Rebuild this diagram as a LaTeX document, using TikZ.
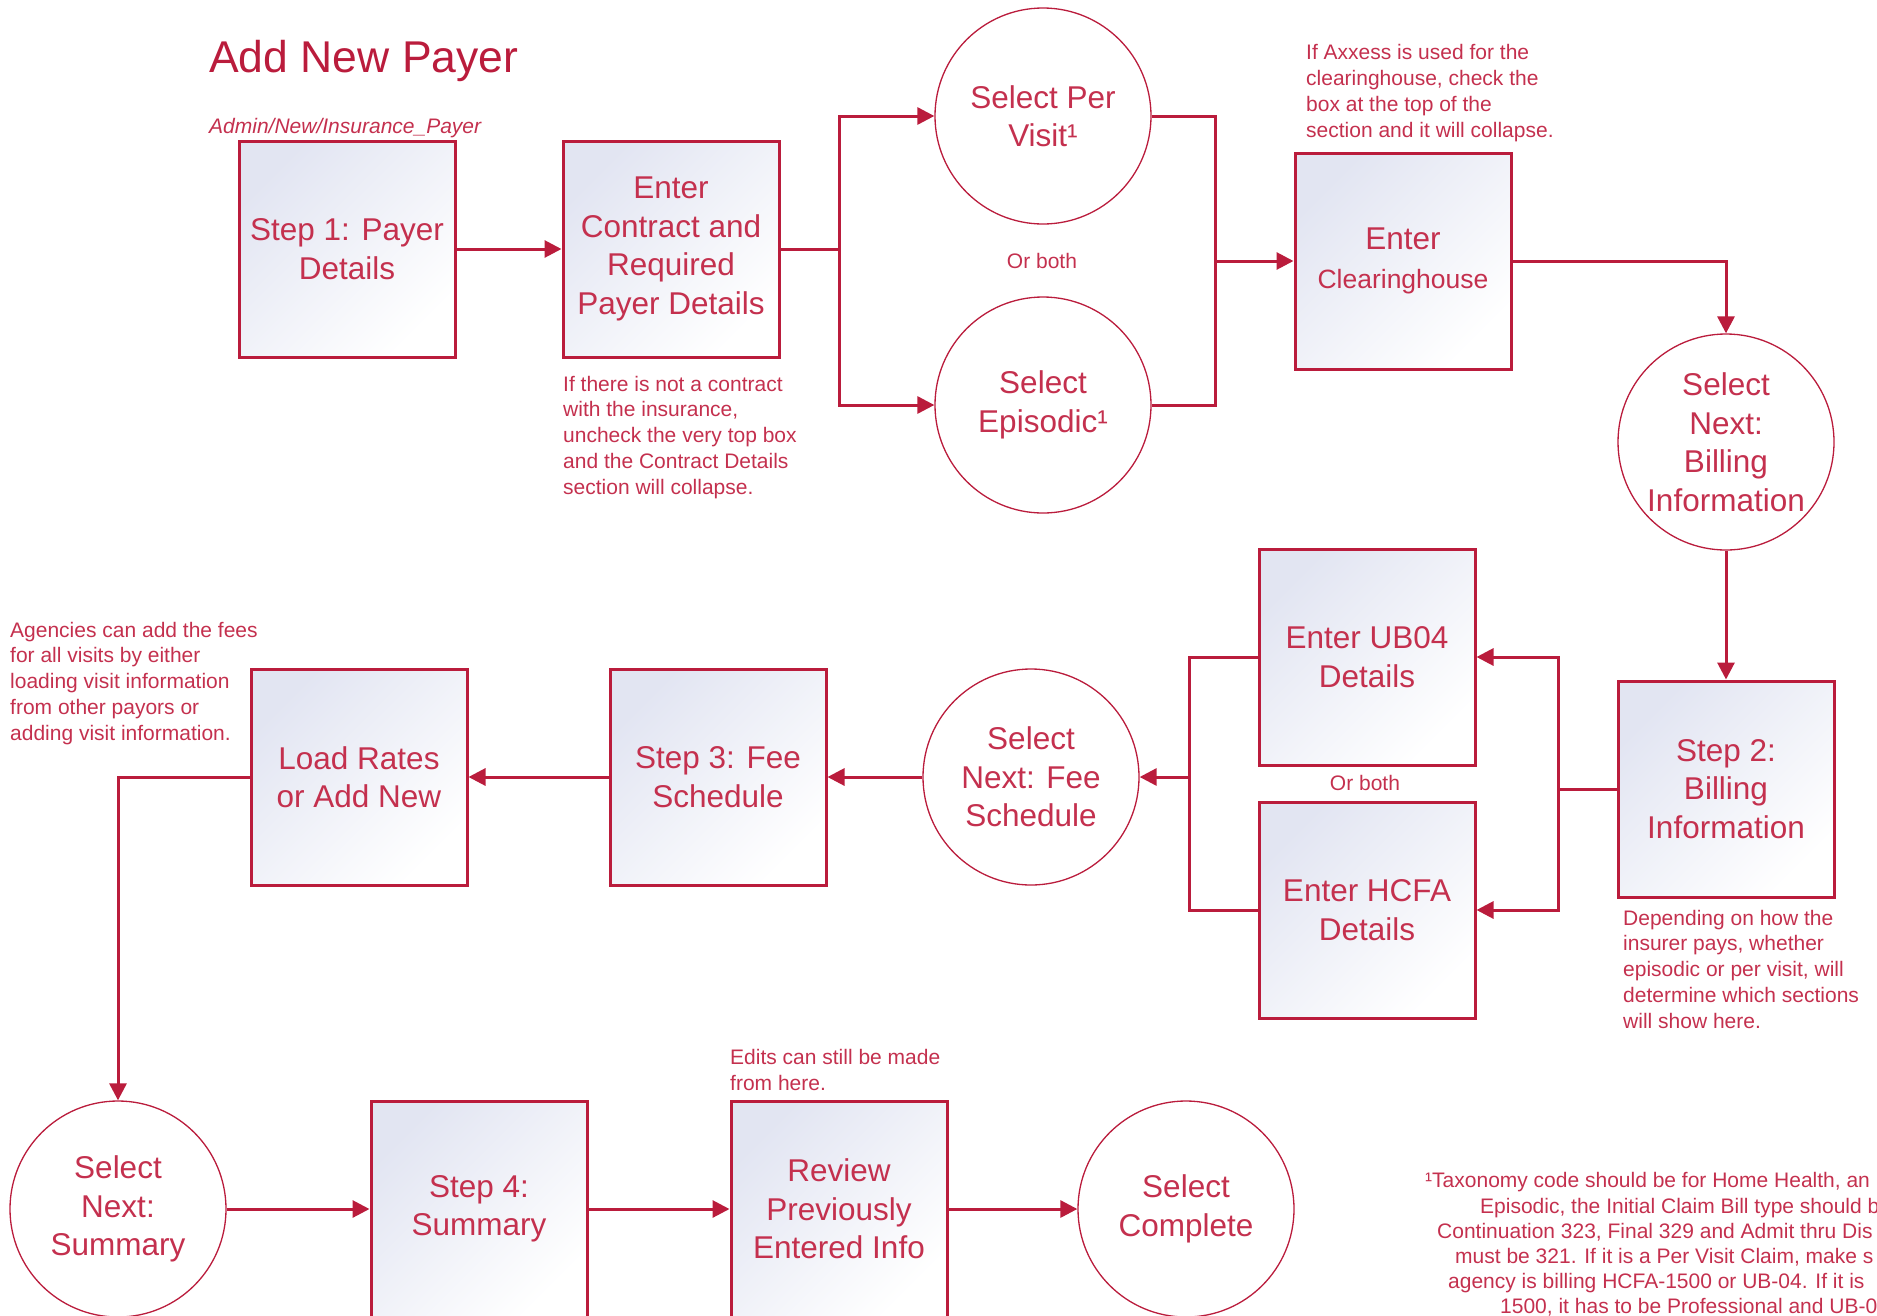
\documentclass[tikz,border=0pt]{standalone}
\usepackage{fontspec}
\setmainfont{Liberation Sans}
\usetikzlibrary{arrows.meta}

\definecolor{linered}{HTML}{BA1C3C}
\definecolor{txtred}{HTML}{C4304E}
\definecolor{boxtint}{HTML}{E2E5F2}

\newcommand{\bigtext}{\fontsize{31.5}{38.5}\selectfont}
\newcommand{\midtext}{\fontsize{26.5}{38.5}\selectfont}
\newcommand{\smalltext}{\fontsize{21}{25.7}\selectfont}

\tikzset{
  stepbox/.style={rectangle, draw=linered, line width=3pt,
    minimum width=216pt, minimum height=216pt, inner sep=0pt,
    top color=boxtint, bottom color=white, shading angle=45,
    text=txtred, font=\bigtext, align=center},
  choice/.style={circle, draw=linered, line width=1.3pt,
    minimum size=216pt, inner sep=0pt, fill=white,
    text=txtred, font=\bigtext, align=center},
  % multi-line notes are placed by the baseline of their last line
  note/.style={text=txtred, font=\smalltext, align=left,
    anchor=base west, inner sep=0pt},
  flow/.style={draw=linered, line width=3pt,
    -{Triangle[length=17pt,width=17pt]}},
  link/.style={draw=linered, line width=3pt}
}

\begin{document}
\begin{tikzpicture}[x=1pt, y=-1pt]
\useasboundingbox (0,0) rectangle (1877,1315);
\clip (0,0) rectangle (1877,1315);

% heading
\node[anchor=base west, inner sep=0pt, text=linered,
      font=\fontsize{44.5}{52}\selectfont] (title) at (209,72) {Add New Payer};
\node[note, font=\smalltext\itshape] (menu) at (209,133) {Admin/New/Insurance\_Payer};

% row 1
\node[stepbox] (s1) at (347,249) {Step 1: Payer\\Details};
\node[stepbox] (contract) at (671,249) {Enter\\Contract and\\Required\\Payer Details};
\node[choice] (pervisit) at (1043,116) {Select Per\\Visit¹};
\node[choice] (episodic) at (1043,405) {Select\\Episodic¹};
\node[text=txtred, font=\smalltext, inner sep=0pt] (or1) at (1042,261) {Or both};
\node[stepbox] (clear) at (1403,261) {\bigtext Enter\\\midtext Clearinghouse};
\node[choice] (billing) at (1726,442) {Select\\Next:\\Billing\\Information};

% row 2
\node[stepbox] (step2) at (1726,789) {Step 2:\\Billing\\Information};
\node[stepbox] (ub04) at (1367,657) {Enter UB04\\Details};
\node[stepbox] (hcfa) at (1367,910) {Enter HCFA\\Details};
\node[text=txtred, font=\smalltext, inner sep=0pt] (or2) at (1365,783) {Or both};
\node[choice] (fee) at (1031,777) {Select\\Next: Fee\\Schedule};
\node[stepbox] (step3) at (718,777) {Step 3: Fee\\Schedule};
\node[stepbox] (load) at (359,777) {Load Rates\\or Add New};

% row 3
\node[choice] (summary) at (118,1209) {Select\\Next:\\Summary};
\node[stepbox] (step4) at (479,1209) {Step 4:\\Summary};
\node[stepbox] (review) at (839,1209) {Review\\Previously\\Entered Info};
\node[choice] (complete) at (1186,1209) {Select\\Complete};

% side notes
\node[note] (contractnote) at (563,494) {If there is not a contract\\with the insurance,\\uncheck the very top box\\and the Contract Details\\section will collapse.};
\node[note] (axxessnote) at (1306,137) {If Axxess is used for the\\clearinghouse, check the\\box at the top of the\\section and it will collapse.};
\node[note] (feesnote) at (10,740) {Agencies can add the fees\\for all visits by either\\loading visit information\\from other payors or\\adding visit information.};
\node[note] (billingnote) at (1623,1028) {Depending on how the\\insurer pays, whether\\episodic or per visit, will\\determine which sections\\will show here.};
\node[note] (editsnote) at (730,1090) {Edits can still be made\\from here.};

% footnote, centred lines running past the right edge
\node[note] (fn1) at (1425,1187) {¹Taxonomy code should be for Home Health, an};
\node[note] (fn2) at (1480,1213) {Episodic, the Initial Claim Bill type should b};
\node[note] (fn3) at (1437,1238) {Continuation 323, Final 329 and Admit thru Dis};
\node[note] (fn4) at (1455,1263) {must be 321. If it is a Per Visit Claim, make s};
\node[note] (fn5) at (1448,1288) {agency is billing HCFA-1500 or UB-04. If it is};
\node[note] (fn6) at (1500,1313) {1500, it has to be Professional and UB-0};

% junction points
\coordinate (split1) at (839,249);
\coordinate (join1) at (1215,261);
\coordinate (split2) at (1558,789);
\coordinate (join2) at (1189,777);

% connectors
\draw[flow] (s1) -- (contract);
\draw[link] (contract) -- (split1);
\draw[flow] (split1) |- (pervisit);
\draw[flow] (split1) |- (episodic);
\draw[link] (pervisit) -| (join1);
\draw[link] (episodic) -| (join1);
\draw[flow] (join1) -- (clear);
\draw[flow] (clear) -| (billing);
\draw[flow] (billing) -- (step2);
\draw[link] (step2) -- (split2);
\draw[flow] (split2) |- (ub04);
\draw[flow] (split2) |- (hcfa);
\draw[link] (ub04) -| (join2);
\draw[link] (hcfa) -| (join2);
\draw[flow] (join2) -- (fee);
\draw[flow] (fee) -- (step3);
\draw[flow] (step3) -- (load);
\draw[flow] (load) -| (summary);
\draw[flow] (summary) -- (step4);
\draw[flow] (step4) -- (review);
\draw[flow] (review) -- (complete);
\end{tikzpicture}
\end{document}
